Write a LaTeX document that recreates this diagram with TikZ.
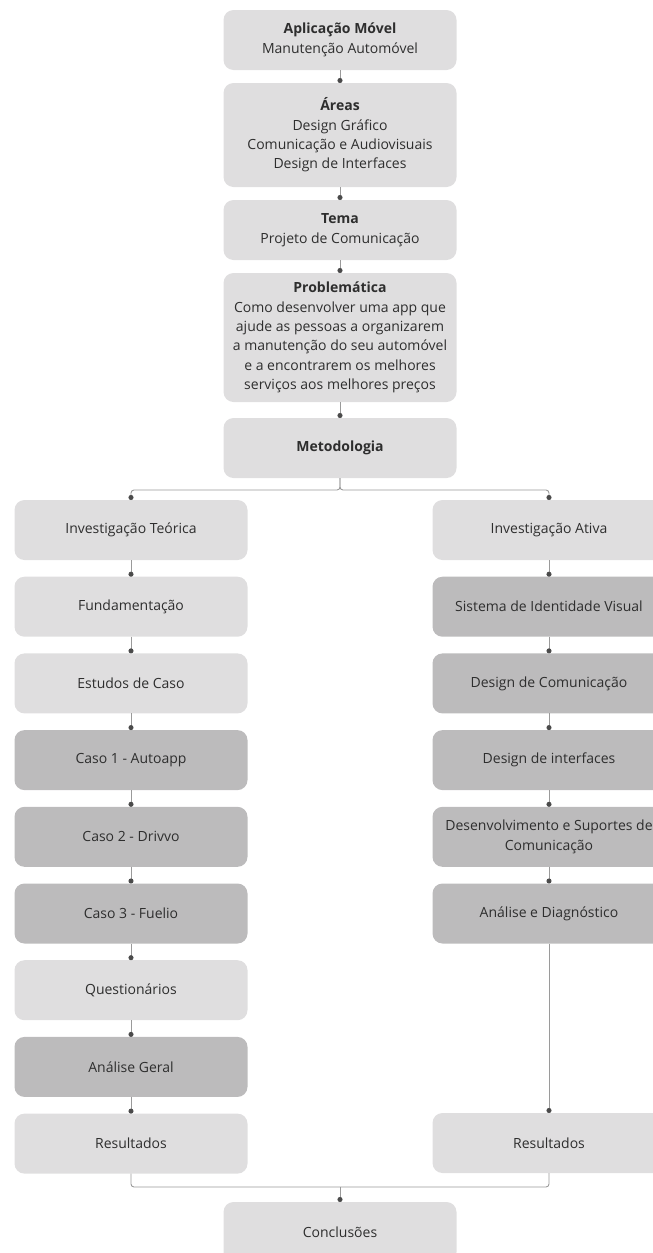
\documentclass[tikz,border=0pt]{standalone}
\usepackage{fontspec}
\setmainfont{Open Sans}
\usetikzlibrary{arrows.meta, positioning}
\definecolor{lightbox}{HTML}{DFDEDF}
\definecolor{darkbox}{HTML}{BCBBBC}
\definecolor{linegray}{HTML}{9A9A9A}
\definecolor{dotgray}{HTML}{4A4A4A}
\definecolor{textgray}{HTML}{2E2E2E}

\begin{document}
\begin{tikzpicture}[x=1pt, y=1pt, >={Circle[length=5pt, color=dotgray]}, node distance=16.7pt,
    box/.style={rectangle, rounded corners=10pt, fill=lightbox, minimum width=233pt, minimum height=60pt,
                outer sep=0pt, align=center, text=textgray, font=\fontsize{14}{19.4}\selectfont},
    shade box/.style={box, fill=darkbox},
    link/.style={draw=linegray, line width=0.9pt}]

    \clip (0,0) rectangle (653,-1253);

    %define the top chain
    \node[box] (app) at (340,-40) {\textbf{Aplicação Móvel}\\Manutenção Automóvel};
    \node[box, minimum height=104pt] (areas) [below=13pt of app] {\textbf{Áreas}\\Design Gráfico\\Comunicação e Audiovisuais\\Design de Interfaces};
    \node[box] (tema) [below=13pt of areas] {\textbf{Tema}\\Projeto de Comunicação};
    \node[box, minimum height=129pt] (prob) [below=13pt of tema] {\textbf{Problemática}\\Como desenvolver uma app que\\ajude as pessoas a organizarem\\a manutenção do seu automóvel\\e a encontrarem os melhores\\serviços aos melhores preços};
    \node[box] (meto) [below=16pt of prob] {\textbf{Metodologia}};

    %define the left column
    \node[box] (invT) at (131,-530) {Investigação Teórica};
    \node[box] (fund) [below=of invT] {Fundamentação};
    \node[box] (estudos) [below=of fund] {Estudos de Caso};
    \node[shade box] (caso1) [below=of estudos] {Caso 1 - Autoapp};
    \node[shade box] (caso2) [below=of caso1] {Caso 2 - Drivvo};
    \node[shade box] (caso3) [below=of caso2] {Caso 3 - Fuelio};
    \node[box] (quest) [below=of caso3] {Questionários};
    \node[shade box] (geral) [below=of quest] {Análise Geral};
    \node[box] (resL) [below=of geral] {Resultados};

    %define the right column
    \node[box] (invA) at (549,-530) {Investigação Ativa};
    \node[shade box] (sistema) [below=of invA] {Sistema de Identidade Visual};
    \node[shade box] (dcom) [below=of sistema] {Design de Comunicação};
    \node[shade box] (dint) [below=of dcom] {Design de interfaces};
    \node[shade box] (desenv) [below=of dint] {Desenvolvimento e Suportes de\\Comunicação};
    \node[shade box] (diag) [below=of desenv] {Análise e Diagnóstico};
    \node[box] (resR) at (549,-1143) {Resultados};

    %define the end
    \coordinate (join) at (340,-1187);
    \node[box] (conc) at (340,-1232) {Conclusões};

    %define the links
    \path[->, link] (app) edge (areas)
                    (areas) edge (tema)
                    (tema) edge (prob)
                    (prob) edge (meto)
                    (invT) edge (fund)
                    (fund) edge (estudos)
                    (estudos) edge (caso1)
                    (caso1) edge (caso2)
                    (caso2) edge (caso3)
                    (caso3) edge (quest)
                    (quest) edge (geral)
                    (geral) edge (resL)
                    (invA) edge (sistema)
                    (sistema) edge (dcom)
                    (dcom) edge (dint)
                    (dint) edge (desenv)
                    (desenv) edge (diag)
                    (diag) edge (resR);
    \draw[->, link, rounded corners=3pt] (meto.south) -- ++(0,-12) -| (invT.north);
    \draw[->, link, rounded corners=3pt] (meto.south) -- ++(0,-12) -| (invA.north);
    \draw[link, rounded corners=3pt] (resL.south) |- (join) -| (resR.south);
    \draw[->, link] (join) -- (conc.north);

\end{tikzpicture}
\end{document}
